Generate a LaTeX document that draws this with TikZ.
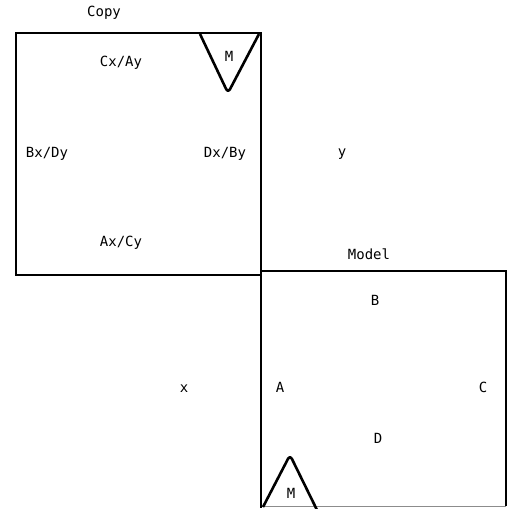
\documentclass[tikz,border=0pt]{standalone}
\usepackage{fontspec}
\setmonofont{DejaVu Sans Mono}
\begin{document}
\begin{tikzpicture}[x=1pt,y=-1pt,
  lbl/.style={font=\ttfamily\fontsize{14}{16}\selectfont, inner sep=0pt, anchor=center},
  edge/.style={line width=2pt, line cap=butt},
  faint/.style={line width=0.8pt, draw=black!45},
  mtri/.style={line width=2.6pt, rounded corners=4pt, line join=round}]
\useasboundingbox (0,0) rectangle (513,508);
% Copy box
\draw[edge] (16,33) rectangle (261,275);
% Model box
\draw[edge] (261,271) -- (506,271) -- (506,506);
\draw[faint] (506,506) -- (261,506);
% shared vertical line
\draw[edge] (261,33) -- (261,508);
% triangles
\draw[mtri] (200,34) -- (228,93) -- (259,34);
\draw[mtri] (263,507) -- (290,455) -- (317,510);
% labels
\node[lbl] (copy) at (104,13) {Copy};
\node[lbl] (cxay) at (121,63) {Cx/Ay};
\node[lbl] (m1) at (229,56) {M};
\node[lbl] (bxdy) at (47,154) {Bx/Dy};
\node[lbl] (dxby) at (225,154) {Dx/By};
\node[lbl] (y) at (342,154) {y};
\node[lbl] (axcy) at (121,243) {Ax/Cy};
\node[lbl] (model) at (369,254) {Model};
\node[lbl] (b) at (375,300) {B};
\node[lbl] (x) at (184,389) {x};
\node[lbl] (a) at (280,387) {A};
\node[lbl] (c) at (483,387) {C};
\node[lbl] (d) at (378,438) {D};
\node[lbl] (m2) at (291,493) {M};
\end{tikzpicture}
\end{document}
